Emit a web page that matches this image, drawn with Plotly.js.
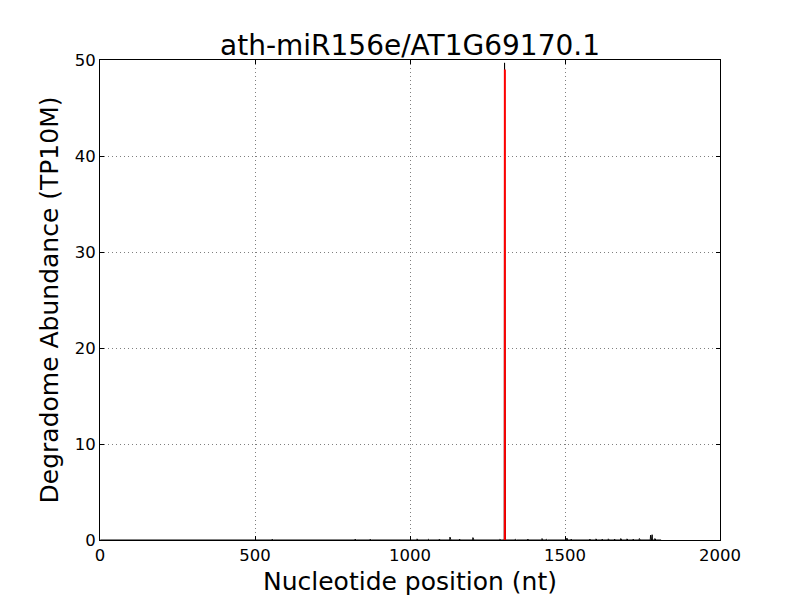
<!DOCTYPE html>
<html>
<head>
<meta charset="utf-8">
<script src="https://cdn.plot.ly/plotly-3.0.1.min.js"></script>
<style>body{margin:0;padding:0;background:#fff}#chart{width:800px;height:600px}</style>
</head>
<body>
<div id="chart"></div>
<script>
// Transcript length and sparse degradome read positions/abundances (TP10M)
const transcriptLength = 1810;
const readPositions = [161, 184, 342, 378, 555, 571, 677, 732, 823, 871, 935, 1023, 1060, 1095, 1129, 1160, 1203, 1290, 1305, 1340, 1380, 1426, 1440, 1506, 1520, 1580, 1600, 1620, 1640, 1660, 1680, 1700, 1720, 1740, 1776, 1781, 1790];
const readValues   = [0.05, 0.05, 0.05, 0.05, 0.08, 0.05, 0.05, 0.05, 0.1, 0.08, 0.05, 0.12, 0.08, 0.1, 0.3, 0.1, 0.25, 0.08, 49.7, 0.08, 0.1, 0.15, 0.08, 0.2, 0.1, 0.1, 0.12, 0.1, 0.12, 0.1, 0.15, 0.12, 0.1, 0.15, 0.5, 0.55, 0.15];
const cleavageSite = 1306;
const cleavageAbundance = 49.0;
const xTicks = [0, 500, 1000, 1500, 2000];
const yTicks = [0, 10, 20, 30, 40, 50];

// full profile: zero except observed positions
const profileX = [], profileY = [];
const lookup = {};
readPositions.forEach((p, i) => lookup[p] = readValues[i]);
for (let p = 1; p <= transcriptLength; p++) { profileX.push(p); profileY.push(lookup[p] || 0); }

const traces = [
  {x: profileX, y: profileY, type: 'scatter', mode: 'lines', line: {color: '#000', width: 1}, hoverinfo: 'skip'},
  {x: [cleavageSite, cleavageSite], y: [0, cleavageAbundance], type: 'scatter', mode: 'lines', line: {color: '#ff0000', width: 2}}
];

const axisCommon = {
  showline: true, mirror: 'ticks', linecolor: '#000', linewidth: 1,
  ticks: 'inside', ticklen: 4, tickcolor: '#000',
  showgrid: true, gridcolor: '#000', griddash: '1px,3px', gridwidth: 0.5,
  zeroline: false, tickfont: {family: 'DejaVu Sans', size: 16.5, color: '#000'}
};

const layout = {
  width: 800, height: 600,
  margin: {l: 100, r: 80, t: 60, b: 60},
  paper_bgcolor: '#fff', plot_bgcolor: '#fff',
  showlegend: false,
  title: {text: 'ath-miR156e/AT1G69170.1', font: {family: 'DejaVu Sans', size: 28, color: '#000'}, x: 0.5125, xanchor: 'center', y: 0.925, yanchor: 'middle'},
  xaxis: Object.assign({}, axisCommon, {range: [0, 2000], tickvals: xTicks, ticktext: xTicks.map(String),
    title: {text: 'Nucleotide position (nt)', font: {family: 'DejaVu Sans', size: 25, color: '#000'}, standoff: 8}}),
  yaxis: Object.assign({}, axisCommon, {range: [0, 50], tickvals: yTicks, ticktext: yTicks.map(String),
    title: {text: 'Degradome Abundance (TP10M)', font: {family: 'DejaVu Sans', size: 25, color: '#000'}, standoff: 8}})
};

Plotly.newPlot('chart', traces, layout, {displayModeBar: false, staticPlot: true});
</script>
</body>
</html>
